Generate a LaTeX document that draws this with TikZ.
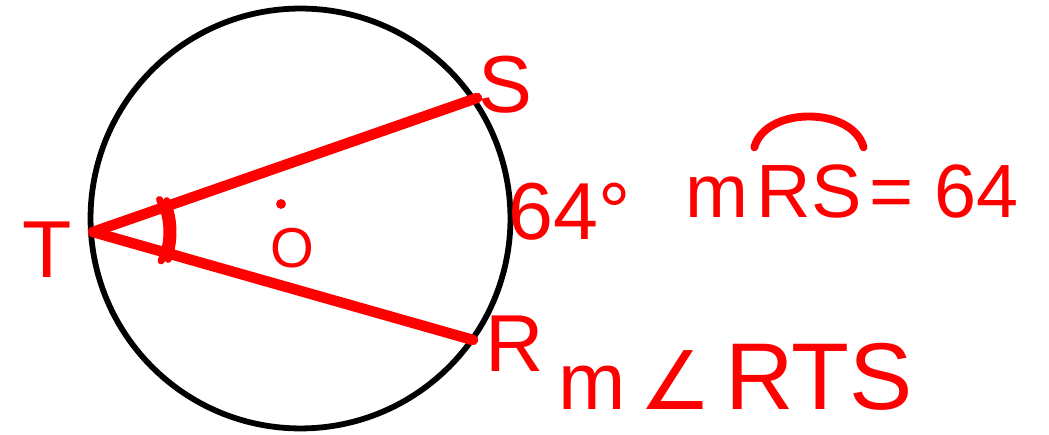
\documentclass[tikz,border=0pt]{standalone}
\usepackage{fontspec}
\setmainfont{Liberation Sans}
\newfontfamily\symfont{DejaVu Sans}
\usetikzlibrary{positioning}
\definecolor{InkRed}{RGB}{255,0,0}
\begin{document}
\begin{tikzpicture}[x=0.02cm,y=0.02cm,
  chord/.style={draw=InkRed,line width=6pt,line cap=round},
  lbl/.style={text=InkRed,inner sep=0pt,font=\fontsize{46}{50}\selectfont},
  slbl/.style={text=InkRed,inner sep=0pt,font=\fontsize{32}{36}\selectfont},
]
\useasboundingbox (0,0) rectangle (1049,435);
\coordinate (O) at (300.5,216.5);
\coordinate (T) at (93,203);
\coordinate (S) at (477,337);
\coordinate (R) at (473,95);
\draw[line width=3.3pt] (O) circle[radius=4.2cm];
\foreach \a/\b in {T/S,T/R}
  \draw[chord] (\a) -- (\b);
% angle mark at T
\draw[chord,line width=4pt] (T) ++(26:74) arc[start angle=26,end angle=-23,radius=1.48cm];
\draw[chord,line width=4pt] (T) ++(23:80) arc[start angle=23,end angle=-20,radius=1.6cm];
\fill[InkRed] (281,231) circle[radius=2.8pt];
\node[lbl] (Tlbl) at (47,185) {T};
\node[lbl] (Slbl) at (505,350) {S};
\node[lbl] (Rlbl) at (515,91) {R};
\node[slbl] (Olbl) at (292,187) {O};
\node[lbl,anchor=base] (arcdeg) at (570,195) {64°};
% arc measure
\node[lbl,font=\fontsize{43}{47}\selectfont,anchor=base west] (marc) at (685,217) {m};
\node[lbl,font=\fontsize{43}{47}\selectfont,right=0.15cm of marc.base east,anchor=base west] (rsarc) {RS};
\node[lbl,font=\fontsize{43}{47}\selectfont,right=0.15cm of rsarc.base east,anchor=base west] (eqval) {= 64};
\draw[chord,line width=4.5pt] ([xshift=-1pt,yshift=10pt]rsarc.north west) to[bend left=75] ([xshift=1pt,yshift=10pt]rsarc.north east);
% angle measure
\node[lbl,anchor=base west] (mang) at (558,25) {m\,{\symfont ∠}\,{\fontsize{54}{58}\selectfont RTS}};
\end{tikzpicture}
\end{document}
